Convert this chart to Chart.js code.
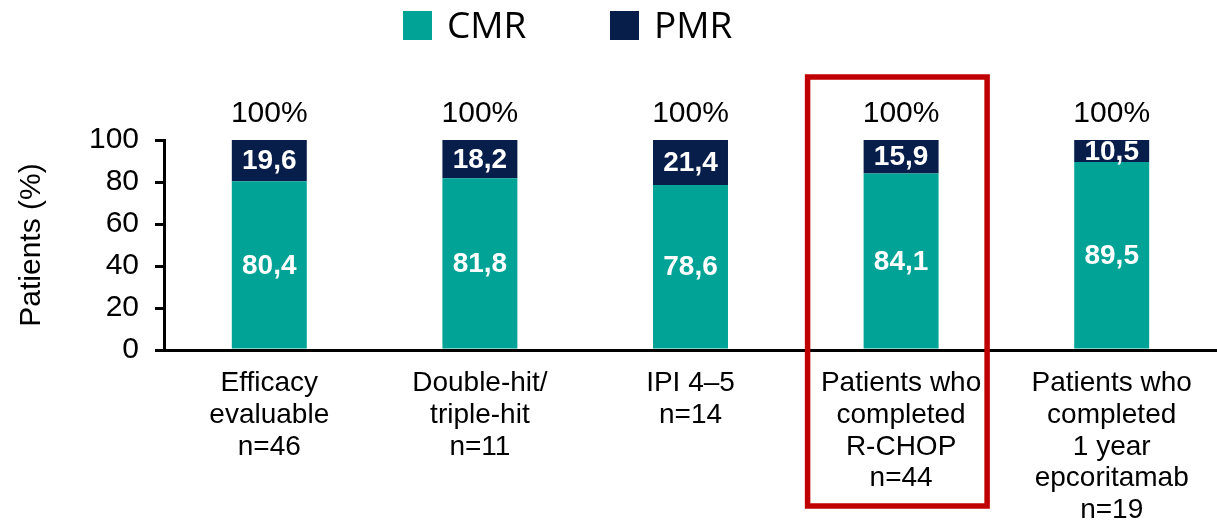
<!DOCTYPE html>
<html>
<head>
<meta charset="utf-8">
<script src="https://cdn.jsdelivr.net/npm/chart.js@4.4.0/dist/chart.umd.min.js"></script>
<style>
  html, body { margin: 0; padding: 0; background: #fff; }
  #wrap { width: 1217px; height: 525px; }
</style>
</head>
<body>
<div id="wrap"><canvas id="myChart" width="1217" height="525"></canvas></div>
<script>
// data
const categories = [
  ['Efficacy', 'evaluable', 'n=46'],
  ['Double-hit/', 'triple-hit', 'n=11'],
  ['IPI 4\u20135', 'n=14'],
  ['Patients who', 'completed', 'R-CHOP', 'n=44'],
  ['Patients who', 'completed', '1 year', 'epcoritamab', 'n=19']
];
const cmrValues = [80.4, 81.8, 78.6, 84.1, 89.5];
const pmrValues = [19.6, 18.2, 21.4, 15.9, 10.5];
const totalLabels = ['100%', '100%', '100%', '100%', '100%'];
const yTicks = [0, 20, 40, 60, 80, 100];
const highlightIndex = 3;

const CMR_COLOR = '#00A396';
const PMR_COLOR = '#081E4A';

const fmt = v => v.toFixed(1).replace('.', ',');

// custom drawing: legend, value labels, totals, red box
const extrasPlugin = {
  id: 'extras',
  afterDatasetsDraw(chart) {
    const ctx = chart.ctx;
    const x = chart.scales.x;
    const y = chart.scales.y;
    ctx.save();

    // values inside segments
    ctx.fillStyle = '#fff';
    ctx.font = 'bold 28px "Liberation Sans", Arial, sans-serif';
    ctx.textAlign = 'center';
    ctx.textBaseline = 'middle';
    chart.data.datasets.forEach((ds, di) => {
      const meta = chart.getDatasetMeta(di);
      meta.data.forEach((bar, i) => {
        const mid = (bar.y + bar.base) / 2;
        ctx.fillText(fmt(ds.data[i]), bar.x, mid + 1);
      });
    });

    // 100% on top
    ctx.fillStyle = '#000';
    ctx.font = '30px "Liberation Sans", Arial, sans-serif';
    ctx.textBaseline = 'alphabetic';
    totalLabels.forEach((t, i) => {
      ctx.fillText(t, x.getPixelForValue(i), y.getPixelForValue(100) - 18);
    });

    // highlight box
    const cx = x.getPixelForValue(highlightIndex);
    ctx.strokeStyle = '#C00000';
    ctx.lineWidth = 5.5;
    ctx.strokeRect(cx - 93.5, 77, 179.5, 429);

    // legend
    const items = [['CMR', CMR_COLOR, 403], ['PMR', PMR_COLOR, 610]];
    ctx.font = '37px "Open Sans", "Noto Sans", sans-serif';
    ctx.textAlign = 'left';
    ctx.textBaseline = 'middle';
    items.forEach(([name, col, lx]) => {
      ctx.fillStyle = col;
      ctx.fillRect(lx, 11, 29, 29);
      ctx.fillStyle = '#000';
      ctx.fillText(name, lx + 44, 27);
    });
    ctx.restore();
  }
};

const ctx = document.getElementById('myChart').getContext('2d');
new Chart(ctx, {
  type: 'bar',
  data: {
    labels: categories,
    datasets: [
      { label: 'CMR', data: cmrValues, backgroundColor: CMR_COLOR, barPercentage: 0.356, categoryPercentage: 1 },
      { label: 'PMR', data: pmrValues, backgroundColor: PMR_COLOR, barPercentage: 0.356, categoryPercentage: 1 }
    ]
  },
  options: {
    responsive: false,
    animation: false,
    layout: { padding: { top: 140, left: 0, right: 0, bottom: 0 } },
    plugins: {
      legend: { display: false },
      tooltip: { enabled: false }
    },
    scales: {
      x: {
        stacked: true,
        grid: { display: false, drawTicks: false },
        border: { display: true, color: '#000', width: 3 },
        ticks: {
          color: '#000',
          padding: 17,
          maxRotation: 0,
          autoSkip: false,
          font: { family: '"Liberation Sans", Arial, sans-serif', size: 28, lineHeight: 1.14 }
        },
        afterFit(scale) { scale.height = 175; }
      },
      y: {
        stacked: true,
        min: 0,
        max: 100,
        afterBuildTicks(scale) { scale.ticks = yTicks.map(v => ({ value: v })); },
        grid: { drawOnChartArea: false, drawTicks: true, tickLength: 9, color: '#000', lineWidth: 3 },
        border: { display: true, color: '#000', width: 3 },
        ticks: {
          color: '#000',
          padding: 16,
          font: { family: '"Liberation Sans", Arial, sans-serif', size: 30 }
        },
        title: {
          display: true,
          text: 'Patients (%)',
          color: '#000',
          padding: { top: 14, bottom: 0 },
          font: { family: '"Liberation Sans", Arial, sans-serif', size: 30 }
        },
        afterFit(scale) { scale.width = 164; }
      }
    }
  },
  plugins: [extrasPlugin]
});
</script>
</body>
</html>
